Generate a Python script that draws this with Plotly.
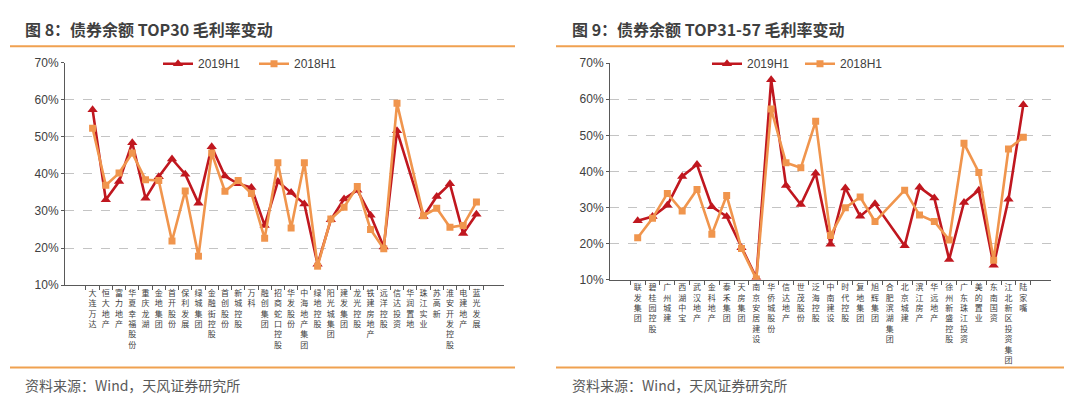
import plotly.graph_objects as go

# ---------------- data ----------------
left_names = ["大连万达", "恒大地产", "富力地产", "华夏幸福股份", "重庆龙湖", "金地集团", "首开股份",
              "保利发展", "绿城集团", "金融街控股", "首创股份", "新城控股", "万科", "融创集团",
              "招商蛇口控股", "华发股份", "中海地产集团", "绿地控股", "阳光城集团", "建发集团",
              "龙光控股", "铁建房地产", "远洋控股", "信达投资", "华润置地", "珠江实业", "苏高新",
              "淮安开发控股", "电建地产", "蓝光发展"]
left_2019 = [57.3, 33.0, 37.9, 48.4, 33.4, 39.2, 44.0, 39.9, 32.1, 47.3, 39.4, 37.3, 36.3, 26.1,
             37.9, 35.0, 31.9, 15.6, 27.6, 33.2, 35.6, 28.8, 20.3, 51.6, None, 28.5, 33.9, 37.3,
             23.9, 29.1]
left_2018 = [52.3, 36.9, 40.2, 45.6, 38.4, 38.2, 21.9, 35.4, 17.8, 45.6, 35.3, 38.2, 34.7, 22.6,
             43.0, 25.4, 43.0, 15.1, 27.8, 31.0, 36.6, 25.0, 19.8, 59.0, None, 28.7, 30.7, 25.6,
             26.1, 32.4]

right_names = ["联发集团", "碧桂园控股", "广州城建", "西湖中宝", "武汉地产", "金科地产", "泰禾集团",
               "天房集团", "南京安居建设", "华侨城股份", "信达地产", "世茂股份", "泛海控股",
               "中南建设", "时代控股", "复地集团", "旭辉集团", "合肥滨湖集团", "北京城建",
               "滨江房产", "华远地产", "徐州新盛控股", "广东珠江投资", "美的置业", "东南国资",
               "江北新区投资集团", "陆家嘴"]
right_2019 = [26.3, 27.5, 30.6, 38.6, 41.9, 30.2, 27.5, 18.8, 10.5, 65.4, 36.1, 30.8, 39.5,
              19.8, 35.4, 27.6, 31.0, None, 19.4, 35.6, 32.6, 15.6, 31.4, 34.8, 14.0, 32.3, 58.5]
right_2018 = [21.6, 27.0, 33.9, 29.0, 35.0, 22.6, 33.3, 18.6, 10.2, 57.3, 42.4, 41.0, 53.9,
              22.2, 29.9, 32.9, 26.1, None, 34.8, 27.9, 26.1, 21.0, 47.8, 39.7, 15.4, 46.2, 49.5]

y_tickvals = [10, 20, 30, 40, 50, 60, 70]
y_ticktext = ["10%", "20%", "30%", "40%", "50%", "60%", "70%"]
series_names = ["2019H1", "2018H1"]
titles = ["图 8：债券余额 TOP30 毛利率变动", "图 9：债券余额 TOP31-57 毛利率变动"]
source_text = "资料来源：Wind，天风证券研究所"

# ---------------- style ----------------
W, H = 1080, 396
RED = "#C0171F"
ORANGE = "#F0954D"
DECO = "#F0A150"
AXIS = "#595959"
TXT = "#404040"
CJK = "Noto Sans CJK SC"
LAT = "Liberation Sans, Arial, Noto Sans CJK SC"


def px(x):
    return x / W


def py(y):
    return 1 - y / H


def stack(name):
    return "<br>".join(list(name))


left_x = [stack(n) for n in left_names]
right_x = [stack(n) for n in right_names]

fig = go.Figure()

for xs, v19, v18, xa, ya, lg in [
    (left_x, left_2019, left_2018, "x", "y", "legend"),
    (right_x, right_2019, right_2018, "x2", "y2", "legend2"),
]:
    fig.add_trace(go.Scatter(x=xs, y=v19, name=series_names[0], mode="lines+markers",
                             line=dict(color=RED, width=2.6),
                             marker=dict(symbol="triangle-up", size=9, color=RED),
                             connectgaps=True, xaxis=xa, yaxis=ya, legend=lg))
    fig.add_trace(go.Scatter(x=xs, y=v18, name=series_names[1], mode="lines+markers",
                             line=dict(color=ORANGE, width=2.6),
                             marker=dict(symbol="square", size=7, color=ORANGE),
                             connectgaps=True, xaxis=xa, yaxis=ya, legend=lg))

xcommon = dict(type="category", showline=True, linecolor=AXIS, linewidth=1,
               ticks="outside", tickson="boundaries", ticklen=4, tickcolor=AXIS,
               tickangle=0, showgrid=False, zeroline=False,
               tickfont=dict(family=CJK, size=8, color=TXT))
ycommon = dict(range=[10, 70], tickvals=y_tickvals, ticktext=y_ticktext,
               showline=True, linecolor=AXIS, linewidth=1, ticks="outside", ticklen=3,
               tickcolor=AXIS, showgrid=True, gridcolor="#C4C4C4", griddash="dash",
               gridwidth=1, zeroline=False, tickfont=dict(family=LAT, size=12, color=TXT))

fig.update_layout(
    width=W, height=H,
    margin=dict(l=0, r=0, t=0, b=0),
    paper_bgcolor="white", plot_bgcolor="white",
    xaxis=dict(domain=[px(57), px(496)], anchor="y", **xcommon),
    yaxis=dict(domain=[py(280), py(49.3)], anchor="x", **ycommon),
    xaxis2=dict(domain=[px(602), px(1043)], anchor="y2", **xcommon),
    yaxis2=dict(domain=[py(274.3), py(50)], anchor="x2", **ycommon),
    legend=dict(orientation="h", x=px(150), y=py(50.5), xanchor="left", yanchor="middle",
                bgcolor="rgba(0,0,0,0)", entrywidth=51, entrywidthmode="pixels",
                font=dict(family=LAT, size=12, color=TXT), itemclick=False),
    legend2=dict(orientation="h", x=px(699), y=py(50.5), xanchor="left", yanchor="middle",
                 bgcolor="rgba(0,0,0,0)", entrywidth=48, entrywidthmode="pixels",
                 font=dict(family=LAT, size=12, color=TXT), itemclick=False),
    showlegend=True,
)

shapes = []
# decorative orange rules
for x0, x1 in [(2, 507), (548, 1056)]:
    for yy in [32.3, 365.5]:
        shapes.append(dict(type="line", xref="paper", yref="paper",
                           x0=px(x0), x1=px(x1), y0=py(yy), y1=py(yy),
                           line=dict(color=DECO, width=2)))
# white boxes behind legends (cover gridline)
for x0, x1 in [(137, 357), (682, 905)]:
    shapes.append(dict(type="rect", xref="paper", yref="paper", layer="above",
                       x0=px(x0), x1=px(x1), y0=py(58), y1=py(43),
                       fillcolor="white", line=dict(width=0)))
fig.update_layout(shapes=shapes)

annotations = []
for t, x0 in zip(titles, [15, 562]):
    annotations.append(dict(text="<b>" + t + "</b>", xref="paper", yref="paper",
                            x=px(x0), y=py(15), xanchor="left", yanchor="middle",
                            showarrow=False, font=dict(family=CJK, size=16, color="#3F3F3F")))
for x0 in [15, 562]:
    annotations.append(dict(text=source_text, xref="paper", yref="paper",
                            x=px(x0), y=py(384), xanchor="left", yanchor="middle",
                            showarrow=False, font=dict(family=CJK, size=14, color="#595959")))
fig.update_layout(annotations=annotations)

fig.write_html("out.html")
